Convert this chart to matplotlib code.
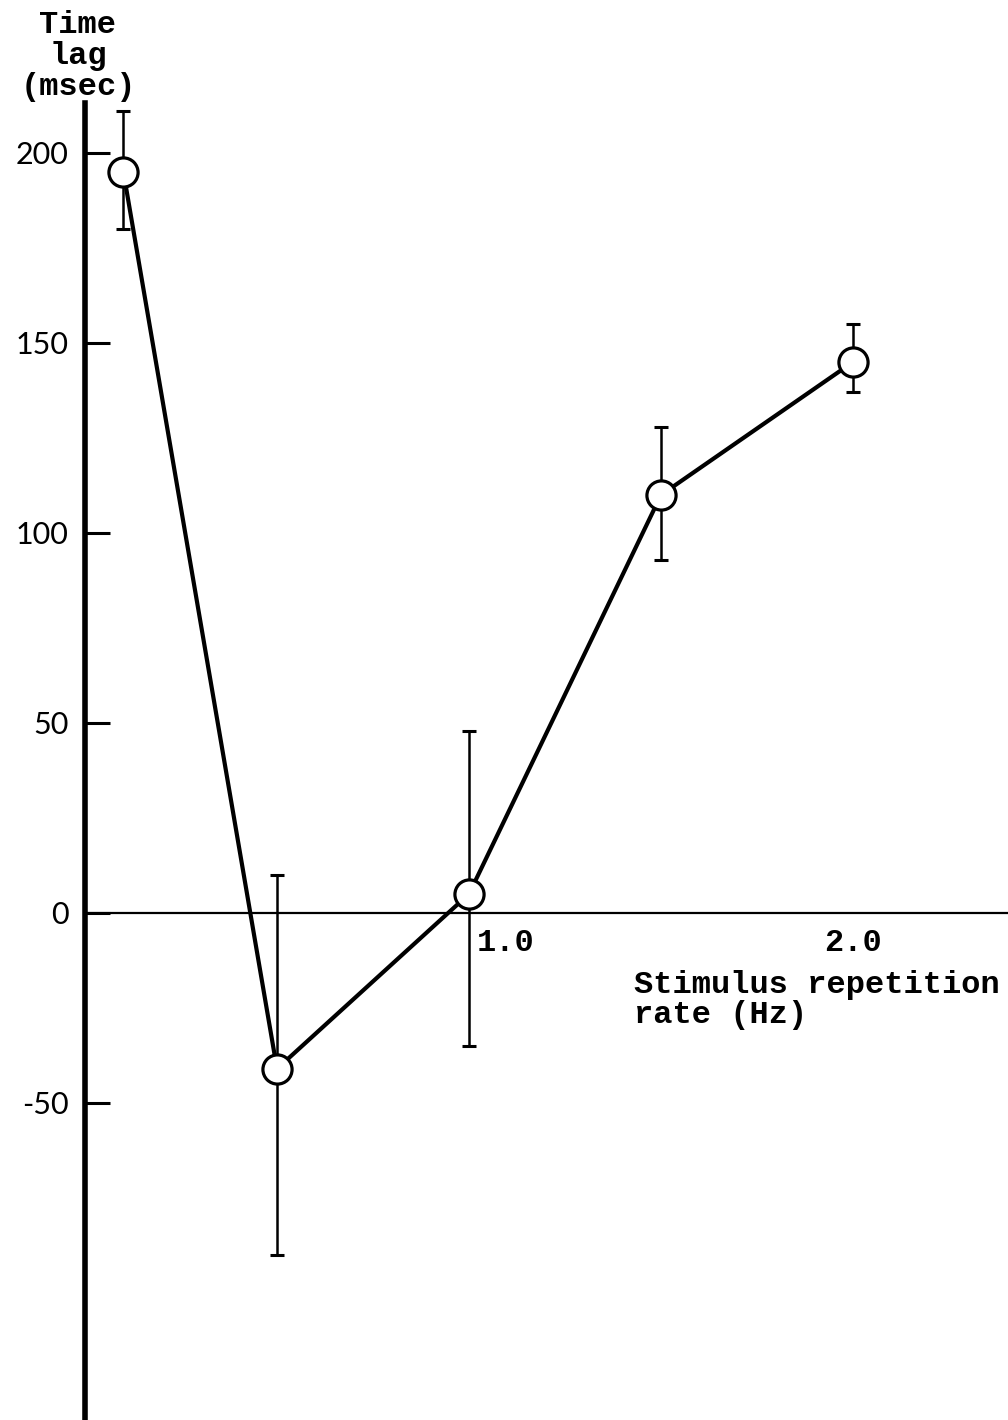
import numpy as np
import matplotlib
matplotlib.use("Agg")
import matplotlib.pyplot as plt

# Values
rate = [0.1, 0.5, 1.0, 1.5, 2.0]          # Hz
lag = [195, -41, 5, 110, 145]             # msec
err_high = [211, 10, 48, 128, 155]
err_low = [180, -90, -35, 93, 137]
ytick_vals = [-50, 0, 50, 100, 150, 200]
ytick_labels = ["-50", "0", "50", "100", "150", "200"]
xtick_vals = [1.0, 2.0]
xtick_labels = ["1.0", "2.0"]

W, H = 1008, 1420
fig = plt.figure(figsize=(W / 100, H / 100), dpi=100)
ax = fig.add_axes([85 / W, 0, 1 - 85 / W, 1 - 103 / H])
ax.set_xlim(0, (W - 85) / 384)
ax.set_ylim(-(H - 913) / 3.8, (913 - 103) / 3.8)

for s in ["top", "right", "bottom"]:
    ax.spines[s].set_visible(False)
ax.spines["left"].set_linewidth(4)

ax.axhline(0, color="black", lw=1.6, zorder=1)

ax.set_xticks([])
ax.set_yticks(ytick_vals)
ax.set_yticklabels(ytick_labels, family="Lato", fontsize=22, color="black")
ax.tick_params(axis="y", direction="in", length=18, width=2.2, pad=12,
               colors="black")

lag = np.array(lag)
yerr = [lag - np.array(err_low), np.array(err_high) - lag]
ax.errorbar(rate, lag, yerr=yerr, fmt="none", ecolor="black", elinewidth=1.8,
            capsize=5, capthick=2.2, zorder=2)
ax.plot(rate, lag, color="black", lw=3, zorder=3)
ax.plot(rate, lag, "o", ms=21, mfc="white", mec="black", mew=2.3, zorder=4)

mono = dict(family="Liberation Mono", fontweight="bold", fontsize=23, color="black")
ax.text(xtick_vals[0] + 0.02, -4, xtick_labels[0], ha="left", va="top", **mono)
ax.text(xtick_vals[1], -4, xtick_labels[1], ha="center", va="top", **mono)
ax.text(1.43, -15, "Stimulus repetition\nrate (Hz)", ha="left", va="top",
        linespacing=1.0, **mono)

fig.text(78 / W, 1 - 10 / H, "Time\nlag\n(msec)", ha="center", va="top",
         linespacing=1.05, **mono)

fig.savefig("out.png", dpi=100)
